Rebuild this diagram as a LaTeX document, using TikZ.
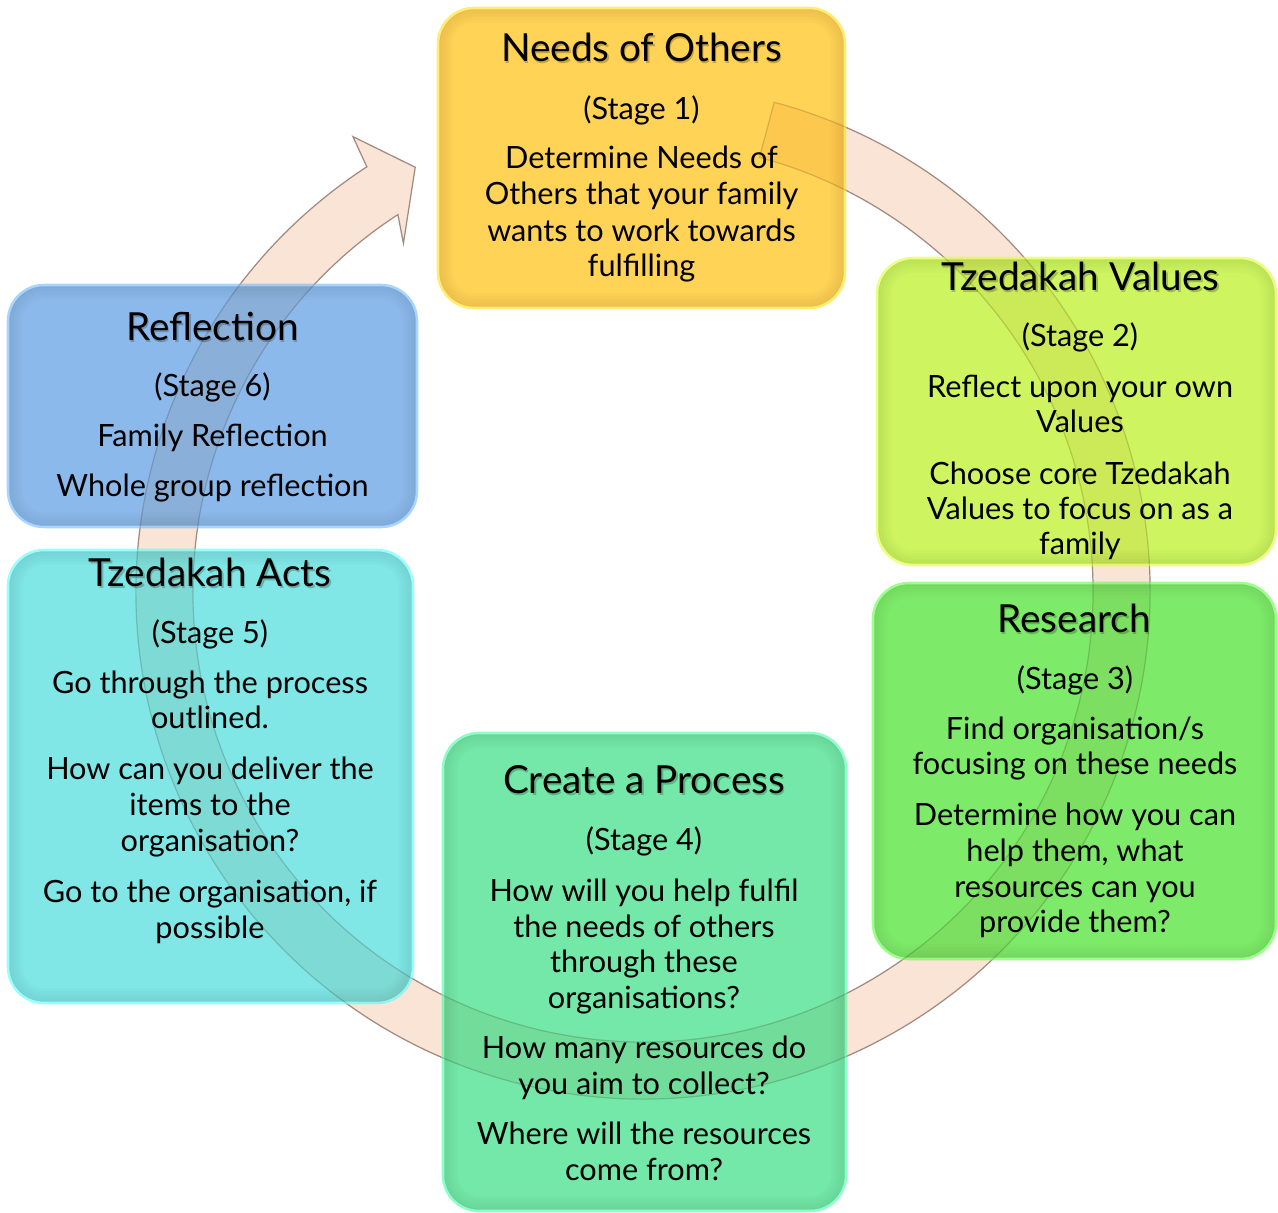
\documentclass[tikz,border=0pt]{standalone}
\usepackage{fontspec}
\setmainfont{Lato}
\usetikzlibrary{calc}

% stage colours: fill and light rim
\definecolor{needsfill}{HTML}{FFD355}
\definecolor{needsrim}{HTML}{FFEC70}
\definecolor{valuesfill}{HTML}{CEF55F}
\definecolor{valuesrim}{HTML}{EAFF84}
\definecolor{researchfill}{HTML}{7DEB69}
\definecolor{researchrim}{HTML}{9CFF8C}
\definecolor{processfill}{HTML}{73E8A8}
\definecolor{processrim}{HTML}{8CFFC8}
\definecolor{actsfill}{HTML}{80E6E6}
\definecolor{actsrim}{HTML}{98FFFF}
\definecolor{reflectfill}{HTML}{8CB9EB}
\definecolor{reflectrim}{HTML}{A8D4FF}
% cycle arrow: pale base, and the tint laid over the boxes
\definecolor{bandbasefill}{HTML}{FCF0E7}
\definecolor{bandfill}{HTML}{FBE4D6}
\definecolor{bandline}{HTML}{BCACA4}

% outline of the circular arrow: a ring segment ending in a head
\def\cyclearrow{($(c)+(-75:507)$) arc[start angle=-75, end angle=237, radius=507]
  -- ($(c)+(237.5:540)$) -- ($(c)+(241.8:482)$) -- ($(c)+(235.5:423)$)
  -- ($(c)+(237:450)$) arc[start angle=237, end angle=-75, radius=450] -- cycle}

% soft inner shade along the edge of a box, built from stacked faint strokes
\def\innershade{%
  \foreach \w in {22,17.5,13,8.5,4}
    \draw[black, opacity=0.016, line width=\w pt, rounded corners=27pt]
      (path picture bounding box.south west) rectangle (path picture bounding box.north east);}

\begin{document}
\begin{tikzpicture}[x=0.75pt,y=0.75pt,yscale=-1,
  stagebox/.style={rectangle, rounded corners=27pt, line width=1.9pt, inner sep=0pt,
    path picture={\innershade}},
  bandbase/.style={fill=bandbasefill, draw=bandline, line width=0.9pt},
  bandover/.style={fill=bandfill, fill opacity=0.45, blend mode=multiply,
                   draw=bandline, draw opacity=0.5, line width=0.9pt},
  title/.style={font=\fontsize{29}{34}\selectfont, anchor=base, inner sep=0pt},
  tshadow/.style={title, text=black, text opacity=0.22},
  body/.style={font=\fontsize{23}{27}\selectfont, anchor=base, inner sep=0pt}]

\useasboundingbox (0,0) rectangle (1278,1213);

\coordinate (c) at (643,592);

% ---- circular arrow behind the boxes ----
\path[bandbase] \cyclearrow;

% ---- stage boxes ----
\node[stagebox, fill=needsfill, draw=needsrim,
      minimum width=0.75*407pt, minimum height=0.75*300pt] (needs) at (641.5,158) {};
\node[stagebox, fill=valuesfill, draw=valuesrim,
      minimum width=0.75*399pt, minimum height=0.75*307pt] (values) at (1076.5,411.5) {};
\node[stagebox, fill=researchfill, draw=researchrim,
      minimum width=0.75*403pt, minimum height=0.75*376pt] (research) at (1074.5,771) {};
\node[stagebox, fill=processfill, draw=processrim,
      minimum width=0.75*403pt, minimum height=0.75*478pt] (process) at (644.5,972) {};
\node[stagebox, fill=actsfill, draw=actsrim,
      minimum width=0.75*405pt, minimum height=0.75*453pt] (acts) at (210.5,776.5) {};
\node[stagebox, fill=reflectfill, draw=reflectrim,
      minimum width=0.75*409pt, minimum height=0.75*242pt] (reflect) at (212.5,406) {};

% ---- the arrow again, showing faintly through the boxes ----
\path[bandover] \cyclearrow;

% ---- titles ----
\foreach \xx/\yy/\tt/\nm in {641.5/62/{Needs of Others}/needs,
                              1080.5/290/{Tzedakah Values}/values,
                              1074/632/{Research}/research,
                              644/793/{Create a Process}/process,
                              210/586/{Tzedakah Acts}/acts,
                              212.5/340/{Reflection}/reflect} {
  \node[tshadow] (\nm-sh) at (\xx+1.5,\yy+2) {\tt};
  \node[title] (\nm-title) at (\xx,\yy) {\tt};
}

% ---- body lines ----
\foreach \yy/\tt [count=\i] in {119/{(Stage 1)}, 168/{Determine Needs of},
    204/{Others that your family}, 241/{wants to work towards}, 276/{fulfilling}}
  \node[body] (needs-\i) at (641.5,\yy) {\tt};

\foreach \yy/\tt [count=\i] in {346/{(Stage 2)}, 397/{Reflect upon your own},
    432/{Values}, 484/{Choose core Tzedakah}, 519/{Values to focus on as a},
    554/{family}}
  \node[body] (values-\i) at (1080,\yy) {\tt};

\foreach \yy/\tt [count=\i] in {689/{(Stage 3)}, 739/{Find organisation/s},
    774/{focusing on these needs}, 825/{Determine how you can},
    861/{help them, what}, 897/{resources can you}, 932/{provide them?}}
  \node[body] (research-\i) at (1075,\yy) {\tt};

\foreach \yy/\tt [count=\i] in {850/{(Stage 4)}, 901/{How will you help fulfil},
    937/{the needs of others}, 972/{through these}, 1008/{organisations?},
    1058/{How many resources do}, 1094/{you aim to collect?},
    1144/{Where will the resources}, 1180/{come from?}}
  \node[body] (process-\i) at (644,\yy) {\tt};

\foreach \yy/\tt [count=\i] in {643/{(Stage 5)}, 693/{Go through the process},
    728/{outlined.}, 779/{How can you deliver the}, 815/{items to the},
    851/{organisation?}, 902/{Go to the organisation, if}, 938/{possible}}
  \node[body] (acts-\i) at (210,\yy) {\tt};

\foreach \yy/\tt [count=\i] in {396/{(Stage 6)}, 446/{Family Reflection},
    496/{Whole group reflection}}
  \node[body] (reflect-\i) at (212.5,\yy) {\tt};

\end{tikzpicture}
\end{document}
